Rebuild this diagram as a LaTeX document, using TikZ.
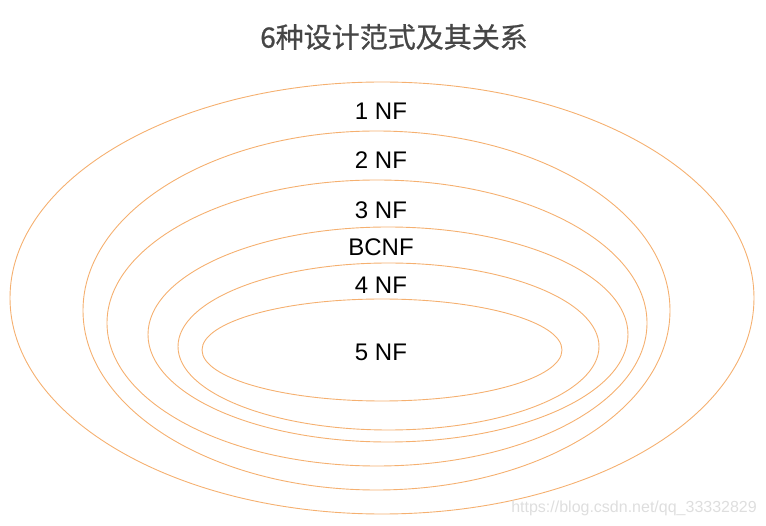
\documentclass[tikz,border=0pt]{standalone}
\usepackage{fontspec}
\setmainfont{Liberation Sans}
\newfontfamily\cjk[FakeBold=0.8]{Noto Sans CJK SC}
\usetikzlibrary{shapes.geometric}
\definecolor{ring}{RGB}{245,176,112}
\definecolor{titlegray}{RGB}{70,70,70}
\definecolor{wmgray}{RGB}{222,222,222}
\tikzset{
  ringshape/.style={ellipse, draw=ring, line width=0.9pt, inner sep=0pt, fill=none},
  lbl/.style={inner sep=0pt, font=\fontsize{24}{28}\selectfont, text=black},
}
\begin{document}
\begin{tikzpicture}[x=1pt,y=-1pt]
\useasboundingbox (0,0) rectangle (766,526);
\node[ringshape, minimum width=744pt, minimum height=432pt] (r1) at (382,298) {};
\node[ringshape, minimum width=587pt, minimum height=359pt] (r2) at (376.5,310.5) {};
\node[ringshape, minimum width=540pt, minimum height=286pt] (r3) at (377,323) {};
\node[ringshape, minimum width=480pt, minimum height=215pt] (r4) at (388,334.5) {};
\node[ringshape, minimum width=421pt, minimum height=167pt] (r5) at (388.5,346.5) {};
\node[ringshape, minimum width=360pt, minimum height=102pt] (r6) at (382,350) {};
\node[inner sep=0pt, text=titlegray, font=\cjk\fontsize{28}{32}\selectfont] (title) at (394,37) {6种设计范式及其关系};
\node[lbl] (l1) at (381,111.5) {1 NF};
\node[lbl] (l2) at (381,160) {2 NF};
\node[lbl] (l3) at (381,210) {3 NF};
\node[lbl] (l4) at (381,247) {BCNF};
\node[lbl] (l5) at (381,285) {4 NF};
\node[lbl] (l6) at (381,352) {5 NF};
\node[inner sep=0pt, anchor=east, text=wmgray, font=\fontsize{16}{18}\selectfont] (wm) at (757,508) {https://blog.csdn.net/qq\_33332829};
\end{tikzpicture}
\end{document}
